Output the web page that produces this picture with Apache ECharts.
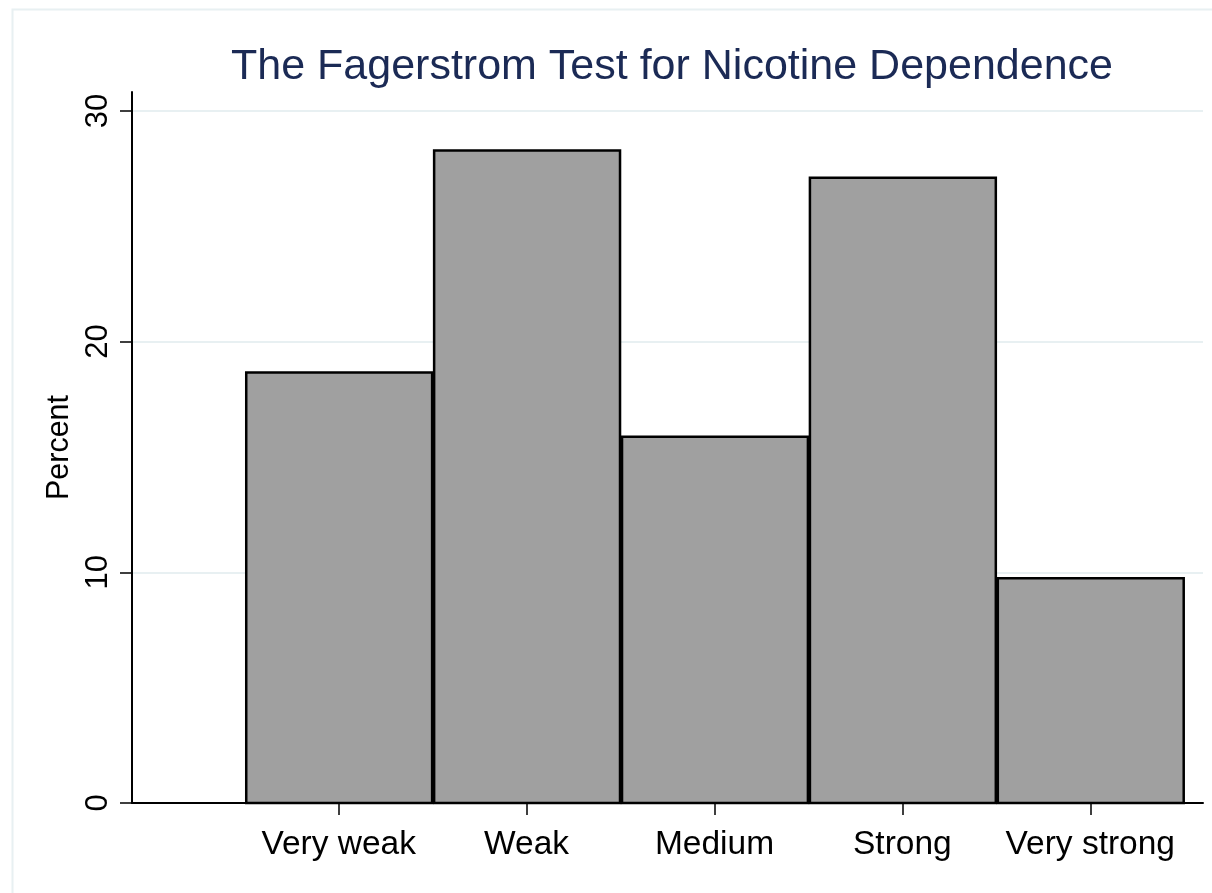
<!DOCTYPE html>
<html>
<head>
<meta charset="utf-8">
<script src="https://cdn.jsdelivr.net/npm/echarts@6/dist/echarts.min.js"></script>
<style>
  html, body { margin: 0; padding: 0; background: #fff; }
  #chart { width: 1212px; height: 893px; }
</style>
</head>
<body>
<div id="chart"></div>
<script>
// Fagerstrom test categories and percent of respondents (histogram bins)
var categories = ['Very weak', 'Weak', 'Medium', 'Strong', 'Very strong'];
var binPositions = [1, 2, 3, 4, 5];
var percentValues = [18.66, 28.28, 15.88, 27.1, 9.74];
var yTicks = [0, 10, 20, 30];

var FONT = '"Liberation Sans", Arial, Helvetica, sans-serif';

var chart = echarts.init(document.getElementById('chart'), null, { renderer: 'canvas' });

var barData = binPositions.map(function (x, i) {
    return [x, percentValues[i]];
});

var option = {
    backgroundColor: '#ffffff',
    animation: false,
    title: {
        text: 'The Fagerstrom Test for Nicotine Dependence',
        left: 667,
        textAlign: 'center',
        top: 41,
        textStyle: {
            color: '#1b2a55',
            fontFamily: FONT,
            fontWeight: 'normal',
            fontSize: 43
        }
    },
    graphic: [{
        type: 'rect',
        left: 10,
        top: 7,
        shape: { width: 1230, height: 910 },
        style: { fill: 'none', stroke: '#e8f0f2', lineWidth: 2 },
        silent: true
    }],
    grid: { left: 132, right: 9, top: 92, bottom: 90, outerBoundsMode: 'none' },
    xAxis: {
        type: 'value',
        min: -0.1,
        max: 5.6,
        axisLine: { show: true, onZero: false, lineStyle: { color: '#000', width: 2 } },
        axisTick: {
            show: true,
            length: 12,
            customValues: binPositions,
            lineStyle: { color: '#000', width: 1.5 }
        },
        axisLabel: {
            customValues: binPositions,
            formatter: function (v) {
                return categories[binPositions.indexOf(v)] || '';
            },
            color: '#000',
            fontFamily: FONT,
            fontSize: 33.5,
            margin: 25
        },
        splitLine: { show: false }
    },
    yAxis: {
        type: 'value',
        min: 0,
        max: 30.82,
        name: 'Percent',
        nameLocation: 'middle',
        nameRotate: 90,
        nameGap: 54,
        nameTextStyle: { color: '#000', fontFamily: FONT, fontSize: 30.5 },
        axisLine: { show: true, onZero: false, lineStyle: { color: '#000', width: 2 } },
        axisTick: {
            show: true,
            length: 12,
            customValues: yTicks,
            lineStyle: { color: '#000', width: 1.5 }
        },
        axisLabel: {
            customValues: yTicks,
            rotate: 90,
            color: '#000',
            fontFamily: FONT,
            fontSize: 31,
            margin: 18
        },
        splitLine: { show: true, lineStyle: { color: '#e8f0f2', width: 2 } }
    },
    series: [{
        type: 'custom',
        data: barData,
        renderItem: function (params, api) {
            var x = api.value(0);
            var y = api.value(1);
            var p0 = api.coord([x - 0.5, y]);
            var p1 = api.coord([x + 0.5, 0]);
            return {
                type: 'rect',
                shape: {
                    x: p0[0] + 1.5,
                    y: p0[1],
                    width: p1[0] - p0[0] - 2,
                    height: p1[1] - p0[1]
                },
                style: { fill: '#a0a0a0', stroke: '#000', lineWidth: 2.5 }
            };
        }
    }]
};

chart.setOption(option);
window.addEventListener('resize', function () { chart.resize(); });
</script>
</body>
</html>
